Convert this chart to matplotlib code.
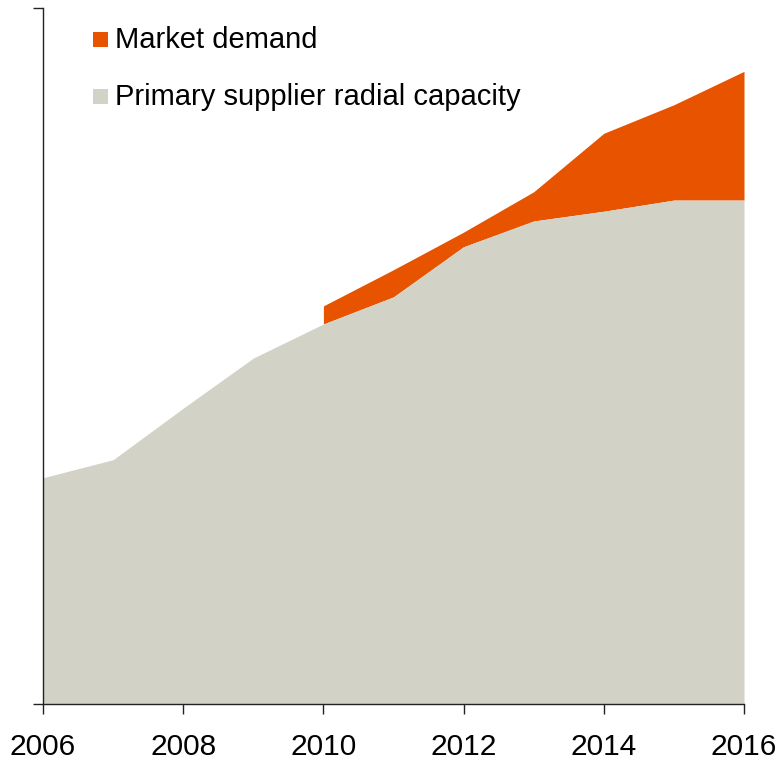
import numpy as np
import matplotlib
matplotlib.use("Agg")
import matplotlib.pyplot as plt
from matplotlib.patches import Rectangle

plt.rcParams["font.family"] = ["Liberation Sans", "DejaVu Sans"]

# values (index, 0..100 scale)
years = [2006, 2007, 2008, 2009, 2010, 2011, 2012, 2013, 2014, 2015, 2016]
capacity = [32.5, 35.1, 42.5, 49.7, 54.6, 58.5, 65.7, 69.4, 70.8, 72.4, 72.4]
demand_years = [2010, 2011, 2012, 2013, 2014, 2015, 2016]
demand = [57.2, 62.4, 67.8, 73.6, 82.0, 86.1, 90.9]
legend_labels = ["Market demand", "Primary supplier radial capacity"]

ORANGE = "#E85300"
GRAY = "#D2D2C6"
W, H = 779, 761

fig = plt.figure(figsize=(W / 100, H / 100), dpi=100)
ax = fig.add_axes([43 / W, 57 / H, 701 / W, 696 / H])

cap_sub = [capacity[years.index(y)] for y in demand_years]
ax.fill_between(demand_years, cap_sub, demand, color=ORANGE, lw=0)
ax.fill_between(years, 0, capacity, color=GRAY, lw=0)

ax.set_xlim(2006, 2016)
ax.set_ylim(0, 100)
ax.set_xticks(range(2006, 2017, 2))
ax.set_yticks([0, 100])
ax.set_yticklabels([])
for s in ["top", "right"]:
    ax.spines[s].set_visible(False)
for s in ["left", "bottom"]:
    ax.spines[s].set_linewidth(1.0)
    ax.spines[s].set_color("#222222")
ax.tick_params(axis="x", length=7, width=1.0, labelsize=21.5, pad=14, color="#222222")
ax.tick_params(axis="y", length=7, width=1.0, color="#222222")

# legend drawn by hand: square + label per row (pixel positions from the picture)
for i, (lab, col) in enumerate(zip(legend_labels, [ORANGE, GRAY])):
    base = 48 + 57 * i
    fig.patches.append(Rectangle((93 / W, 1 - (base - 1) / H), 15 / W, 15 / H,
                                 transform=fig.transFigure, color=col, lw=0))
    fig.text(115 / W, 1 - base / H, lab, fontsize=21, va="baseline", ha="left")

fig.savefig("out.png", dpi=100)
